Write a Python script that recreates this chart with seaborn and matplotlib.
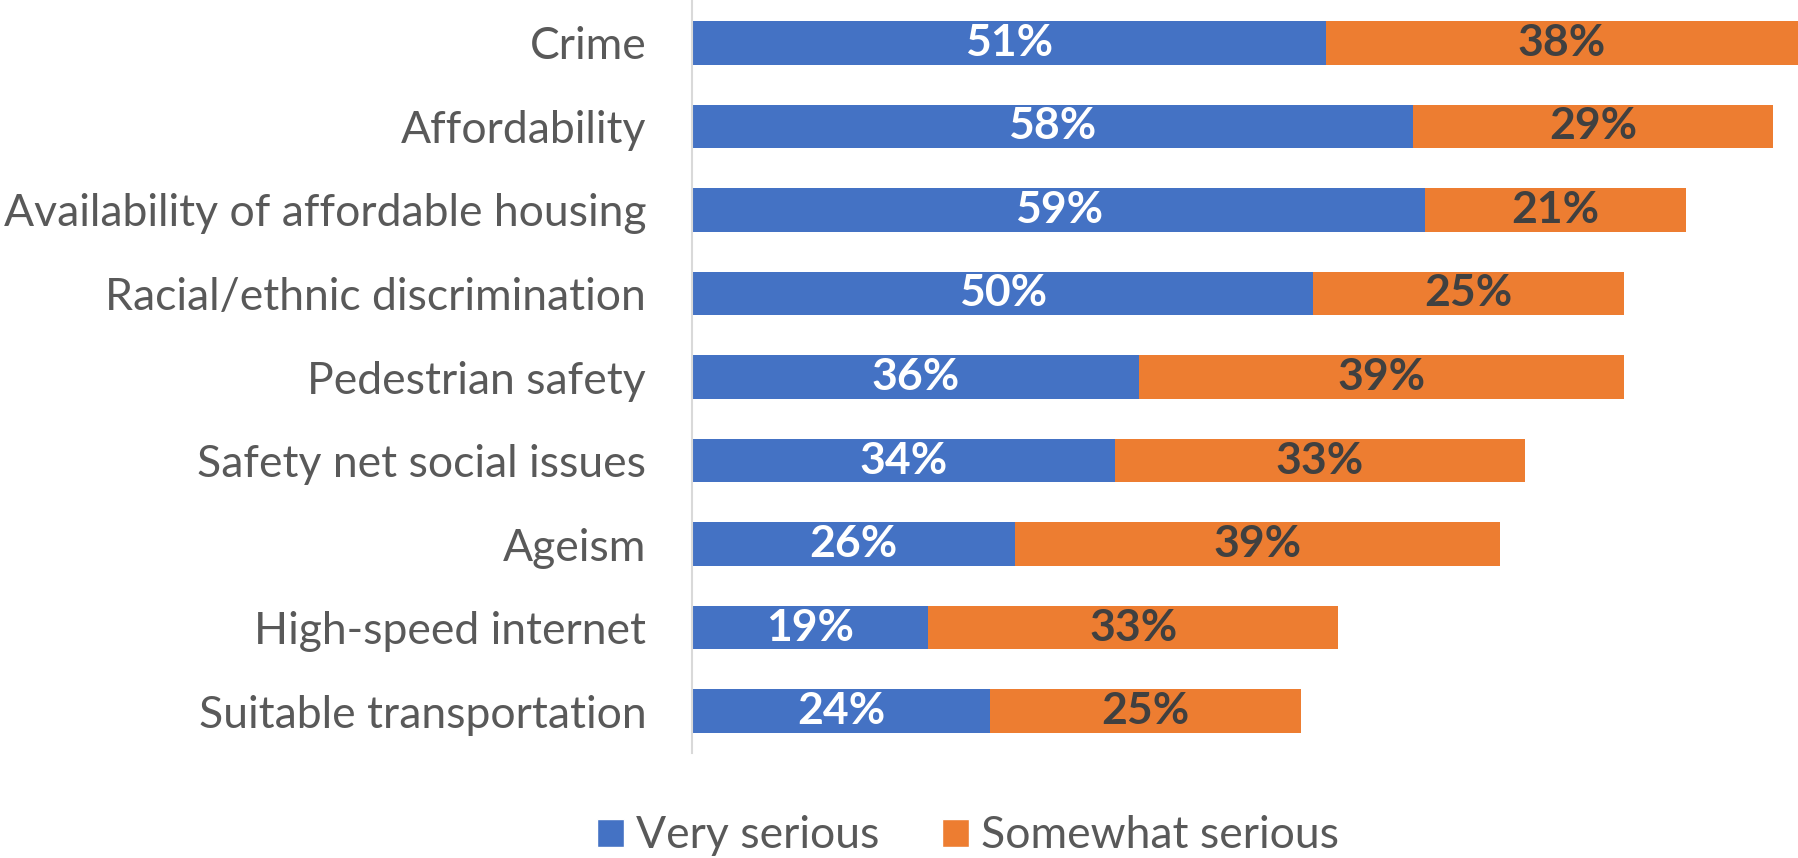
import pandas as pd
import matplotlib.pyplot as plt
import seaborn as sns
from matplotlib.patches import Patch

# data
issues = ['Crime', 'Affordability', 'Availability of affordable housing',
          'Racial/ethnic discrimination', 'Pedestrian safety', 'Safety net social issues',
          'Ageism', 'High-speed internet', 'Suitable transportation']
very_serious = [51, 58, 59, 50, 36, 34, 26, 19, 24]
somewhat_serious = [38, 29, 21, 25, 39, 33, 39, 33, 25]

blue = '#4472C4'
orange = '#ED7D31'
grey_text = '#595959'

sns.set_theme(style='white')
plt.rcParams['font.family'] = ['Lato', 'DejaVu Sans']

df = pd.DataFrame({'issue': issues, 'very': very_serious, 'somewhat': somewhat_serious})
df['total'] = df['very'] + df['somewhat']

fig = plt.figure(figsize=(17.98, 8.58), dpi=100)
W, H = 1798, 858
ax = fig.add_axes([692 / W, (H - 753) / H, (W - 692) / W, 752 / H])

# stacked bars: draw totals in orange, then very serious in blue on top
sns.barplot(data=df, x='total', y='issue', color=orange, width=0.52, ax=ax,
            saturation=1, orient='h', linewidth=0)
sns.barplot(data=df, x='very', y='issue', color=blue, width=0.52, ax=ax,
            saturation=1, orient='h', linewidth=0)

for i, row in df.iterrows():
    ax.text(row['very'] / 2, i, f"{row['very']}%", ha='center', va='center',
            color='white', fontsize=32, fontweight='bold')
    ax.text(row['very'] + row['somewhat'] / 2, i, f"{row['somewhat']}%", ha='center',
            va='center', color='#404040', fontsize=32, fontweight='bold')

ax.set_xlim(0, 89)
ax.set_ylim(8.5, -0.5)
ax.set_xlabel('')
ax.set_ylabel('')
ax.set_xticks([])
for side in ['top', 'right', 'bottom']:
    ax.spines[side].set_visible(False)
ax.spines['left'].set_color('#D9D9D9')
ax.spines['left'].set_linewidth(1.5)
ax.tick_params(axis='y', length=0, pad=33, labelsize=32, labelcolor=grey_text)

handles = [Patch(facecolor=blue, label='Very serious'),
           Patch(facecolor=orange, label='Somewhat serious')]
fig.legend(handles=handles, loc='center', bbox_to_anchor=(968 / W, 1 - 836 / H), ncol=2,
           frameon=False, fontsize=32, labelcolor=grey_text, handlelength=0.61,
           handleheight=0.61, handletextpad=0.27, columnspacing=1.4,
           borderpad=0, borderaxespad=0)

fig.savefig('out.png', dpi=100)
